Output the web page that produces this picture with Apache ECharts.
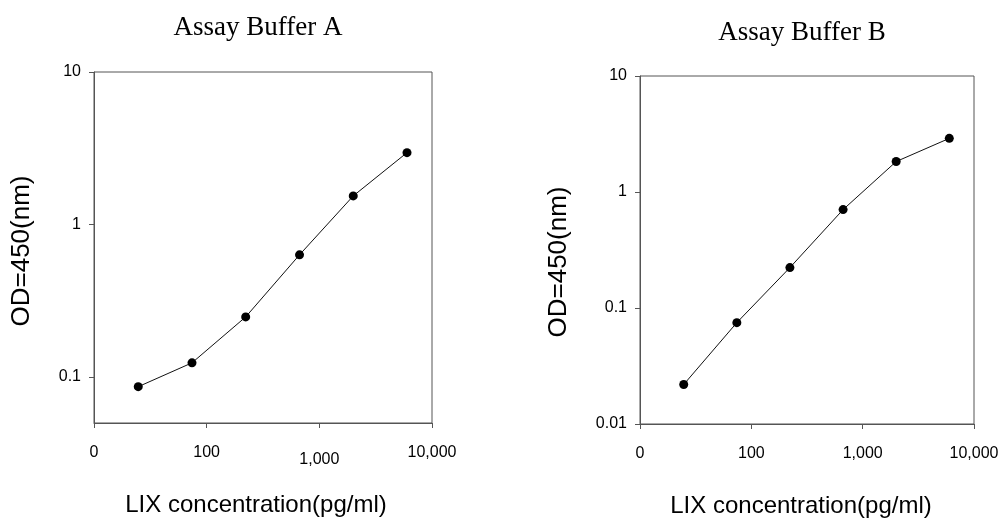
<!DOCTYPE html>
<html>
<head>
  <meta charset="UTF-8">
  <title>Assay Buffer standard curves</title>
  <script src="https://cdn.jsdelivr.net/npm/echarts@6/dist/echarts.min.js"></script>
  <style>
    html, body { margin: 0; padding: 0; background: #fff; }
  </style>
</head>
<body>
  <div id="chart" style="width:1008px; height:529px;"></div>
  <script>
    // standard concentrations (pg/ml), 3-fold dilutions
    var conc = [24.7, 74.1, 222, 667, 2000, 6000];
    var odBufferA = [0.0865, 0.124, 0.248, 0.633, 1.54, 2.96];
    var odBufferB = [0.0219, 0.0748, 0.223, 0.705, 1.83, 2.90];

    var xTickValues = [10, 100, 1000, 10000];
    var xTickLabels = ['0', '100', '1,000', '10,000'];
    var yTicksA = [0.1, 1, 10];
    var yTicksB = [0.01, 0.1, 1, 10];

    function pairs(xs, ys) {
      return xs.map(function (x, i) { return [x, ys[i]]; });
    }
    function xLabel(v) {
      var i = xTickValues.indexOf(Math.round(v));
      return i < 0 ? '' : xTickLabels[i];
    }

    var axisColor = '#555';
    var sans = 'Liberation Sans, Arial, sans-serif';
    var serif = 'Liberation Serif, Times New Roman, serif';

    function xAxis(grid, lowLabel, nameShift) {
      return {
        type: 'log', gridIndex: grid, min: 10, max: 10000, logBase: 10,
        name: 'LIX concentration(pg/ml)', nameLocation: 'middle', nameGap: 70,
        nameTextStyle: { color: '#000', fontSize: 24, fontFamily: sans, padding: [0, nameShift, 0, 0] },
        axisLine: { show: true, lineStyle: { color: axisColor, width: 1 } },
        axisTick: { show: true, length: 5, lineStyle: { color: axisColor } },
        splitLine: { show: false },
        axisLabel: {
          color: '#000', fontSize: 16, fontFamily: sans, margin: 22,
          formatter: function (v) {
            var s = xLabel(v);
            return (lowLabel && s === '1,000') ? '{low|' + s + '}' : s;
          },
          rich: { low: { color: '#000', fontSize: 16, fontFamily: sans, padding: [7, 0, 0, 0] } }
        }
      };
    }

    function yAxis(grid, min, ticks, gap, pad) {
      return {
        type: 'log', gridIndex: grid, min: min, max: 10, logBase: 10,
        name: 'OD=450(nm)', nameLocation: 'middle', nameGap: gap,
        nameTextStyle: { color: '#000', fontSize: 26, fontFamily: sans, padding: pad },
        axisLine: { show: true, lineStyle: { color: axisColor, width: 1 } },
        axisTick: { show: true, length: 5, lineStyle: { color: axisColor }, customValues: ticks },
        splitLine: { show: false },
        axisLabel: {
          color: '#000', fontSize: 16, fontFamily: sans, margin: 13,
          customValues: ticks,
          formatter: function (v) { return String(+v.toPrecision(3)); }
        }
      };
    }

    function series(idx, values) {
      return {
        type: 'line', xAxisIndex: idx, yAxisIndex: idx,
        data: pairs(conc, values),
        symbol: 'circle', symbolSize: 9,
        itemStyle: { color: '#000' },
        lineStyle: { color: '#111', width: 1 },
        animation: false
      };
    }

    var chart = echarts.init(document.getElementById('chart'), null, { renderer: 'canvas' });
    chart.setOption({
      backgroundColor: '#fff',
      animation: false,
      title: [
        { text: 'Assay Buffer A', left: 258, top: 14, textAlign: 'center', padding: 0,
          textStyle: { color: '#000', fontSize: 27, fontWeight: 'normal', fontFamily: serif } },
        { text: 'Assay Buffer B', left: 802, top: 19, textAlign: 'center', padding: 0,
          textStyle: { color: '#000', fontSize: 27, fontWeight: 'normal', fontFamily: serif } }
      ],
      grid: [
        { left: 94, top: 72, width: 338, height: 351, show: true, borderColor: axisColor, borderWidth: 1, containLabel: false },
        { left: 640, top: 76, width: 334, height: 348, show: true, borderColor: axisColor, borderWidth: 1, containLabel: false }
      ],
      xAxis: [xAxis(0, true, 14), xAxis(1, false, 12)],
      yAxis: [
        yAxis(0, 0.05, yTicksA, 59, [0, 7, 0, 0]),
        yAxis(1, 0.01, yTicksB, 68, [0, 24, 0, 0])
      ],
      series: [series(0, odBufferA), series(1, odBufferB)]
    });
  </script>
</body>
</html>
